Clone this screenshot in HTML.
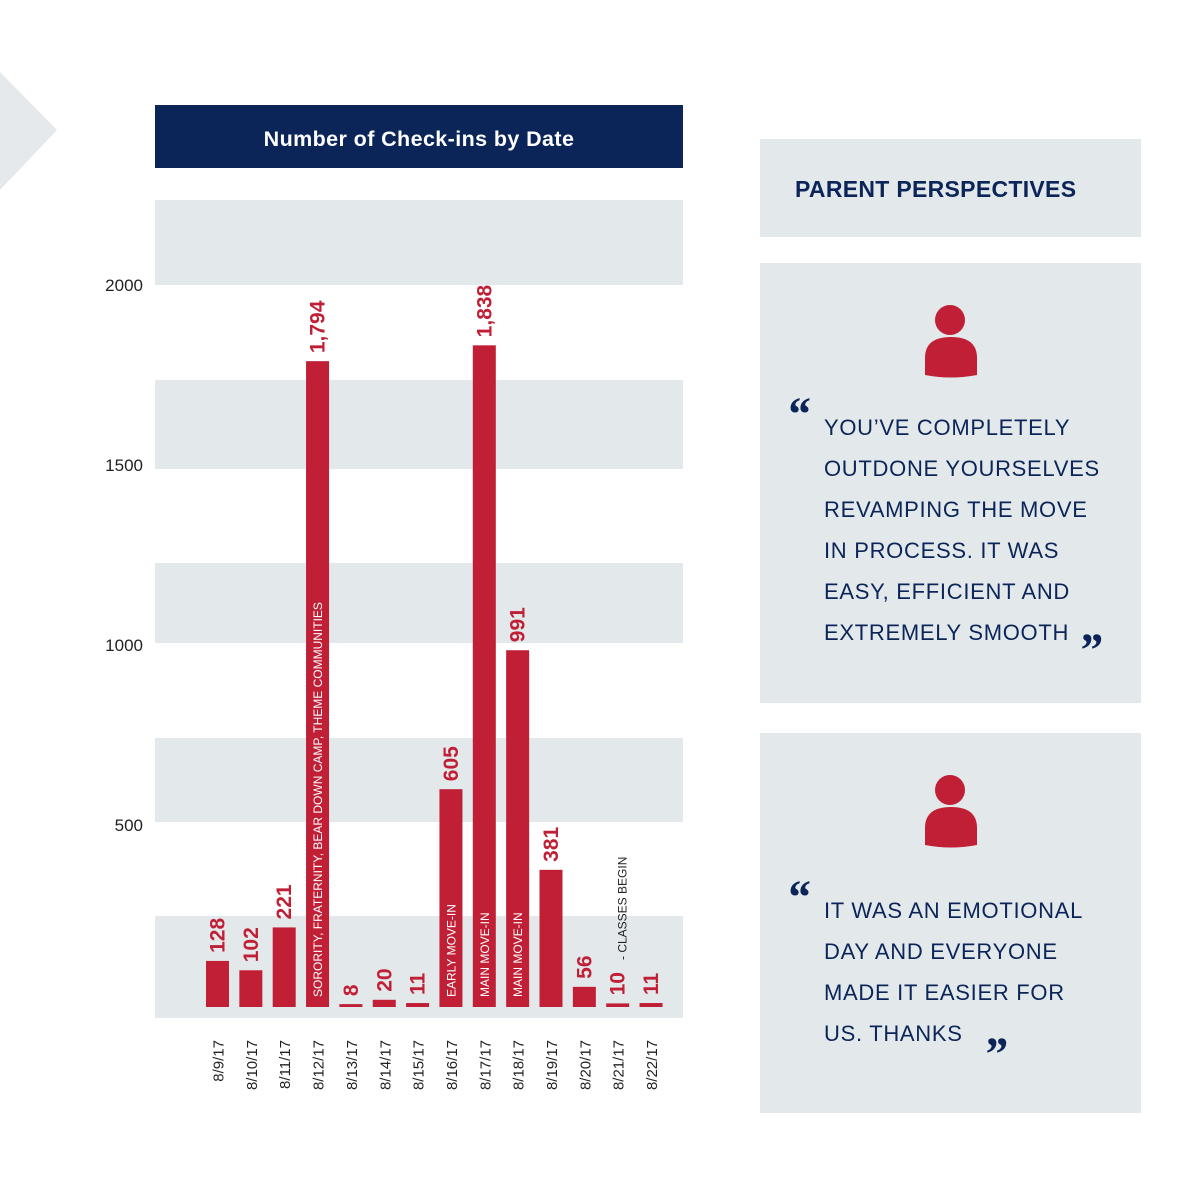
<!DOCTYPE html>
<html><head><meta charset="utf-8"><style>
html,body{margin:0;padding:0;background:#fff;}
svg{display:block;font-family:"Liberation Sans",sans-serif;}
</style></head><body>
<svg id="c" width="1200" height="1200" viewBox="0 0 1200 1200">
<polygon points="0,72 57,130 0,190" fill="#e5e9eb"/>
<rect x="155" y="105" width="528" height="63" fill="#0b2559"/>
<text x="419" y="146" text-anchor="middle" fill="#fff" font-size="21.5" font-weight="bold" letter-spacing="0.4">Number of Check-ins by Date</text>
<g id="bands"></g>
<g id="ticks"></g>
<g id="bars"></g>
<g id="dates"></g>
<rect x="760" y="139" width="381" height="98" fill="#e3e8ea"/>
<text x="795" y="197" fill="#0b2559" font-size="23" font-weight="bold" letter-spacing="0.3">PARENT PERSPECTIVES</text>
<g>
<rect x="760" y="263" width="381" height="440" fill="#e3e8ea"/>
<circle cx="950" cy="320" r="15" fill="#c01f35"/>
<path d="M925,375 L925,358 Q925,337 951,337 Q977,337 977,358 L977,375 Q951,380 925,375Z" fill="#c01f35"/>
<text x="786" y="430" fill="#0b2559" font-size="48" font-weight="bold" font-style="italic" font-family="Liberation Serif,serif">“</text>
<g fill="#0b2559" font-size="22" letter-spacing="0.7">
<text x="824" y="435">YOU’VE COMPLETELY</text>
<text x="824" y="476">OUTDONE YOURSELVES</text>
<text x="824" y="517">REVAMPING THE MOVE</text>
<text x="824" y="558">IN PROCESS. IT WAS</text>
<text x="824" y="599">EASY, EFFICIENT AND</text>
<text x="824" y="640">EXTREMELY SMOOTH</text>
</g>
<text x="1078" y="666" fill="#0b2559" font-size="48" font-weight="bold" font-style="italic" font-family="Liberation Serif,serif">”</text>
</g>
<g>
<rect x="760" y="733" width="381" height="380" fill="#e3e8ea"/>
<circle cx="950" cy="790" r="15" fill="#c01f35"/>
<path d="M925,845 L925,828 Q925,807 951,807 Q977,807 977,828 L977,845 Q951,850 925,845Z" fill="#c01f35"/>
<text x="786" y="913" fill="#0b2559" font-size="48" font-weight="bold" font-style="italic" font-family="Liberation Serif,serif">“</text>
<g fill="#0b2559" font-size="22" letter-spacing="0.7">
<text x="824" y="918">IT WAS AN EMOTIONAL</text>
<text x="824" y="959">DAY AND EVERYONE</text>
<text x="824" y="1000">MADE IT EASIER FOR</text>
<text x="824" y="1041">US. THANKS</text>
</g>
<text x="983" y="1070" fill="#0b2559" font-size="48" font-weight="bold" font-style="italic" font-family="Liberation Serif,serif">”</text>
</g>
</svg>
<script>
const dates=["8/9/17","8/10/17","8/11/17","8/12/17","8/13/17","8/14/17","8/15/17","8/16/17","8/17/17","8/18/17","8/19/17","8/20/17","8/21/17","8/22/17"];
const values=[128,102,221,1794,8,20,11,605,1838,991,381,56,10,11];
const valueLabels=["128","102","221","1,794","8","20","11","605","1,838","991","381","56","10","11"];
const notes=["","","","SORORITY, FRATERNITY, BEAR DOWN CAMP, THEME COMMUNITIES","","","","EARLY MOVE-IN","MAIN MOVE-IN","MAIN MOVE-IN","","","- CLASSES BEGIN",""];
const tickValues=[500,1000,1500,2000];
const NS="http://www.w3.org/2000/svg";
const base=1007,scale=0.36;
function y(v){return base-v*scale;}
function x(i){return 217.5+i*33.35;}
function mk(tag,attrs,parent,txt){const e=document.createElementNS(NS,tag);for(const k in attrs)e.setAttribute(k,attrs[k]);if(txt!==undefined)e.textContent=txt;parent.appendChild(e);return e;}
const bands=document.getElementById('bands');
[[200,285],[380,469],[563,643],[738,822],[916,1018]].forEach(b=>{
 const r=mk('rect',{x:155,y:b[0],width:528,height:b[1]-b[0],fill:'#e3e8ea'},bands);
 
 
});
const ticks=document.getElementById('ticks');
tickValues.forEach(v=>{
 const t=mk('text',{x:143,y:y(v)+4,'text-anchor':'end','font-size':'17',fill:'#222'},ticks,String(v));
 
 
});
const bars=document.getElementById('bars'),dl=document.getElementById('dates');
values.forEach((v,i)=>{
 const cx=x(i),h=Math.max(v*scale,2);
 const r=mk('rect',{x:cx-11.5,y:base-h,width:23,height:h,fill:'#c01f35'},bars);
 
 
 const ly=base-h-8;
 const t=mk('text',{x:0,y:0,transform:`translate(${cx+7},${ly}) rotate(-90)`,'font-size':'21','font-weight':'bold',fill:'#c01f35'},bars,valueLabels[i]);
 
 
 if(notes[i]){
  const inside=v>500;
  const n=mk('text',{x:0,y:0,transform:inside?`translate(${cx+4.5},997) rotate(-90)`:`translate(${cx+9},960) rotate(-90)`,'font-size':'12',fill:inside?'#fff':'#222'},bars,notes[i]);
  
  
 }
 const d=mk('text',{x:0,y:0,transform:`translate(${cx+6},1040) rotate(-90)`,'text-anchor':'end','font-size':'15',fill:'#222'},dl,dates[i]);
 
 
});
</script>
</body></html>
